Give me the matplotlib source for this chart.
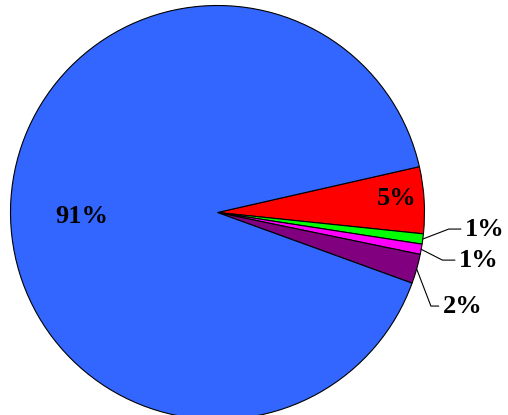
import numpy as np
import matplotlib.pyplot as plt

# slice shares (percent), clockwise starting just above the right horizontal
shares = [5.2, 0.8, 0.8, 2.3, 90.9]
labels = ["5%", "1%", "1%", "2%", "91%"]
colors = ["#FF0000", "#00FF00", "#FF00FF", "#800080", "#3366FF"]

# label placement: inside (x, y) or outside with leader line
inner_pos = {0: (0.867, 0.070), 4: (-0.657, -0.019)}
outer_pos = {1: (1.196, -0.080), 2: (1.167, -0.230), 3: (1.089, -0.452)}
leader_angle = {1: 21, 2: -27, 3: -69}

plt.rcParams['font.family'] = ['Liberation Serif', 'DejaVu Serif']

fig = plt.figure(figsize=(5.08, 4.15), dpi=100)
ax = fig.add_axes([0, 0, 1, 1])

wedges, _ = ax.pie(shares, colors=colors, startangle=12.8, counterclock=False,
                   wedgeprops=dict(edgecolor="black", linewidth=0.8))

for i, w in enumerate(wedges):
    if i in inner_pos:
        ax.text(*inner_pos[i], labels[i], ha="center", va="center",
                fontsize=19, fontweight="bold")
    else:
        mid = np.deg2rad((w.theta1 + w.theta2) / 2)
        edge = (np.cos(mid), np.sin(mid))
        ax.annotate(labels[i], xy=edge, xytext=outer_pos[i],
                    ha="left", va="center", fontsize=19, fontweight="bold",
                    arrowprops=dict(arrowstyle="-", color="black", lw=0.8,
                                    shrinkA=1, shrinkB=0, relpos=(0, 0.5),
                                    connectionstyle="angle,angleA=0,angleB=%d,rad=0" % leader_angle[i]))

r = 207.0
ax.set_xlim(-217.5 / r, (508 - 217.5) / r)
ax.set_ylim(-(415 - 212.5) / r, 212.5 / r)
ax.axis("off")

fig.savefig("out.png", dpi=100)
